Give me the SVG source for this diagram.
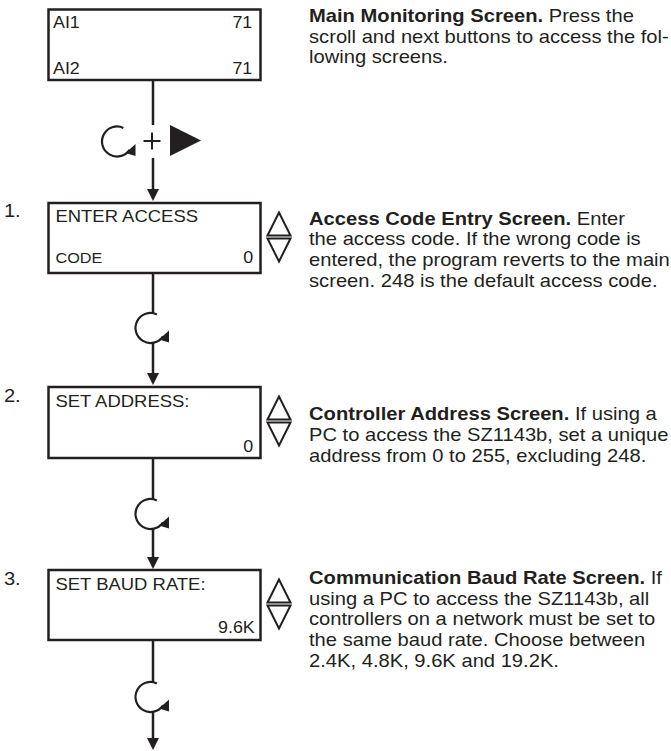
<svg xmlns="http://www.w3.org/2000/svg" xmlns:xlink="http://www.w3.org/1999/xlink" width="671" height="751" viewBox="0 0 671 751">
<style>
text{font-family:"Liberation Sans",Arial,sans-serif;fill:#231f20}
.d{font-size:18px}
.b{font-weight:bold}
.big{font-size:16.5px}
.sm{font-size:14.5px}
.val{font-size:16px}
.num{font-size:18px}
.box{fill:#fff;stroke:#231f20;stroke-width:2.5}
.tri{fill:none;stroke:#231f20;stroke-width:2;stroke-linejoin:miter}
.ln{stroke:#231f20;stroke-width:2.5;fill:none}
</style>
<defs>
<g id="rot">
<path d="M6.34,-13.6 A15,15 0 1 0 12.5,8.3" fill="none" stroke="#231f20" stroke-width="2.2"/>
<path d="M18.5,2.5 L8.5,11.5 L18.5,14.5 Z" fill="#231f20"/>
</g>
<g id="ud">
<path class="tri" d="M279,9.5 L267.5,32.5 L290.5,32.5 Z"/>
<path class="tri" d="M267.5,35.5 L290.5,35.5 L279,58.5 Z"/>
</g>
<path id="ah" d="M-6,-12 L6,-12 L0,0 Z" fill="#231f20"/>
</defs>

<g id="connectors">
<line class="ln" x1="153" y1="80" x2="153" y2="125"/>
<line class="ln" x1="153" y1="158" x2="153" y2="190"/>
<use xlink:href="#ah" x="153" y="201"/>
<use xlink:href="#rot" x="117" y="141.5"/>
<path d="M143.5,141 H160.5 M152,132.5 V149.5" stroke="#231f20" stroke-width="2" fill="none"/>
<path d="M170,125 L170,156 L201,140.5 Z" fill="#231f20"/>

<line class="ln" x1="153" y1="273" x2="153" y2="313"/>
<line class="ln" x1="153" y1="343" x2="153" y2="375"/>
<use xlink:href="#ah" x="153" y="385"/>
<use xlink:href="#rot" x="150.5" y="328"/>

<line class="ln" x1="153" y1="458" x2="153" y2="499"/>
<line class="ln" x1="153" y1="529" x2="153" y2="558"/>
<use xlink:href="#ah" x="153" y="569"/>
<use xlink:href="#rot" x="150.5" y="514"/>

<line class="ln" x1="153" y1="640" x2="153" y2="682"/>
<line class="ln" x1="153" y1="712" x2="153" y2="739"/>
<use xlink:href="#ah" x="153" y="750"/>
<use xlink:href="#rot" x="150.5" y="697"/>
</g>

<g id="main">
<rect class="box" x="48.5" y="9.5" width="212" height="70.5"/>
<g transform="scale(1.12 1)">
<text class="val" x="47.3" y="28">AI1</text>
<text class="val" x="225.3" y="28" text-anchor="end">71</text>
<text class="val" x="47.3" y="74">AI2</text>
<text class="val" x="225.3" y="74" text-anchor="end">71</text>
<text class="d" x="275.9" y="22.5"><tspan class="b">Main Monitoring Screen.</tspan> Press the</text>
<text class="d" x="275.9" y="43">scroll and next buttons to access the fol-</text>
<text class="d" x="275.9" y="63.5">lowing screens.</text>
</g>
</g>

<g id="access">
<rect class="box" x="48.5" y="203" width="212" height="70"/>
<use xlink:href="#ud" x="0" y="203"/>
<g transform="scale(1.12 1)">
<text class="num" x="3.5" y="217">1.</text>
<text class="big" x="49.5" y="222">ENTER ACCESS</text>
<text class="sm" x="49.5" y="263">CODE</text>
<text class="val" x="226" y="263" text-anchor="end">0</text>
<text class="d" x="275.9" y="225"><tspan class="b">Access Code Entry Screen.</tspan> Enter</text>
<text class="d" x="275.9" y="245.5">the access code. If the wrong code is</text>
<text class="d" x="275.9" y="266">entered, the program reverts to the main</text>
<text class="d" x="275.9" y="286.7">screen. 248 is the default access code.</text>
</g>
</g>

<g id="address">
<rect class="box" x="48.5" y="387" width="212" height="71"/>
<use xlink:href="#ud" x="0" y="387"/>
<g transform="scale(1.12 1)">
<text class="num" x="3.5" y="402">2.</text>
<text class="big" x="49.5" y="407">SET ADDRESS:</text>
<text class="val" x="226" y="452" text-anchor="end">0</text>
<text class="d" x="275.9" y="420.5"><tspan class="b">Controller Address Screen.</tspan> If using a</text>
<text class="d" x="275.9" y="441.5">PC to access the SZ1143b, set a unique</text>
<text class="d" x="275.9" y="462.5">address from 0 to 255, excluding 248.</text>
</g>
</g>

<g id="baud">
<rect class="box" x="48.5" y="570" width="212" height="70"/>
<use xlink:href="#ud" x="0" y="570"/>
<g transform="scale(1.12 1)">
<text class="num" x="3.5" y="585">3.</text>
<text class="big" x="49.5" y="590">SET BAUD RATE:</text>
<text class="val" x="227.5" y="633" text-anchor="end">9.6K</text>
<text class="d" x="275.9" y="584"><tspan class="b">Communication Baud Rate Screen.</tspan> If</text>
<text class="d" x="275.9" y="604.7">using a PC to access the SZ1143b, all</text>
<text class="d" x="275.9" y="625.4">controllers on a network must be set to</text>
<text class="d" x="275.9" y="646">the same baud rate. Choose between</text>
<text class="d" x="275.9" y="667">2.4K, 4.8K, 9.6K and 19.2K.</text>
</g>
</g>
</svg>
